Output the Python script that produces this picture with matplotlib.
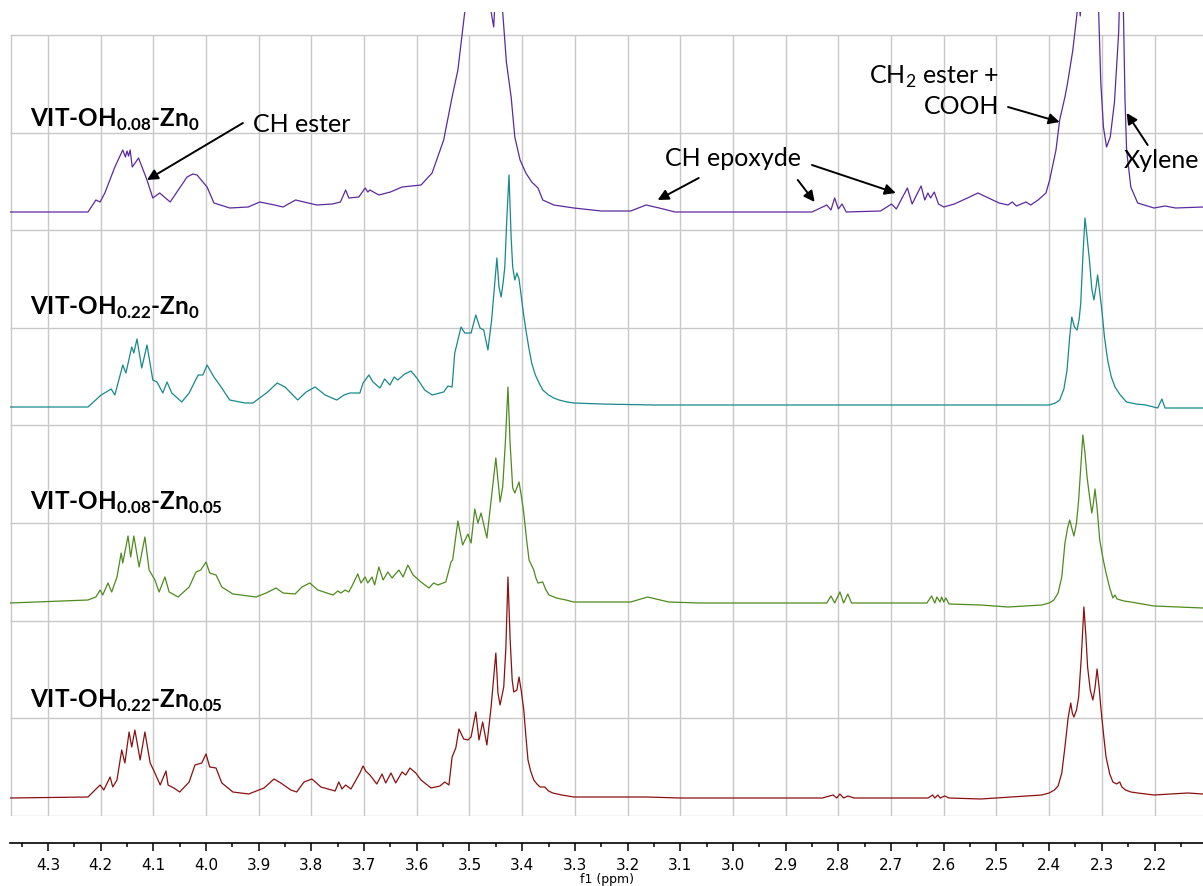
import numpy as np
import matplotlib
matplotlib.use("Agg")
import matplotlib.pyplot as plt
from matplotlib.ticker import MultipleLocator, FormatStrFormatter

# --- data: (ppm, intensity above baseline, a.u.) ---
purple = [(4.372, 0), (4.224, 0), (4.209, 12), (4.201, 10), (4.192, 19), (4.173, 45),
          (4.158, 62), (4.153, 55), (4.150, 61), (4.147, 56), (4.144, 62), (4.140, 45),
          (4.128, 54), (4.112, 32),
          (4.101, 14), (4.088, 19), (4.068, 10), (4.036, 35), (4.025, 38), (4.017, 37),
          (3.998, 25), (3.985, 9), (3.955, 4), (3.920, 5), (3.898, 10), (3.870, 7),
          (3.854, 5), (3.830, 12), (3.790, 7), (3.760, 8), (3.745, 10), (3.735, 22),
          (3.729, 14), (3.710, 15), (3.698, 24), (3.693, 20), (3.689, 22), (3.672, 17),
          (3.650, 20), (3.628, 25), (3.592, 27), (3.571, 39), (3.549, 72), (3.533, 115),
          (3.522, 142), (3.509, 200), (3.500, 280), (3.480, 300), (3.465, 260), (3.459, 200),
          (3.454, 185), (3.450, 230), (3.444, 240), (3.437, 200), (3.430, 150), (3.421, 115),
          (3.414, 75), (3.404, 52), (3.393, 39), (3.382, 30), (3.370, 24), (3.361, 12),
          (3.340, 7), (3.302, 4), (3.250, 1), (3.194, 1), (3.165, 7), (3.140, 4),
          (3.110, 0), (2.850, 0), (2.822, 7), (2.814, 2), (2.807, 14), (2.800, 3),
          (2.793, 8), (2.785, 0), (2.720, 1), (2.699, 8), (2.690, 3), (2.669, 24),
          (2.660, 8), (2.643, 26), (2.636, 12), (2.630, 19), (2.625, 14), (2.618, 20),
          (2.610, 8), (2.600, 5), (2.580, 8), (2.555, 14), (2.535, 19), (2.515, 14),
          (2.495, 9), (2.478, 7), (2.470, 10), (2.462, 6), (2.444, 10), (2.435, 7),
          (2.421, 12), (2.406, 19), (2.399, 32), (2.387, 62), (2.380, 92), (2.370, 115),
          (2.365, 129), (2.355, 162), (2.347, 199), (2.344, 215), (2.341, 196), (2.338, 215),
          (2.330, 300), (2.310, 300), (2.306, 200), (2.302, 130), (2.297, 85), (2.291, 65),
          (2.284, 75), (2.276, 110), (2.268, 180), (2.264, 260), (2.262, 300), (2.259, 200),
          (2.256, 112), (2.253, 62), (2.245, 25), (2.232, 9), (2.201, 4), (2.180, 6),
          (2.160, 4), (2.108, 5)]

teal = [(4.372, 0), (4.224, 0), (4.199, 12), (4.180, 18), (4.173, 12), (4.158, 42),
        (4.152, 34), (4.141, 60), (4.137, 54), (4.131, 68), (4.122, 39), (4.112, 62),
        (4.101, 27), (4.093, 25), (4.082, 14), (4.074, 25), (4.065, 14), (4.046, 5),
        (4.032, 14), (4.015, 32), (4.006, 32), (3.998, 42), (3.985, 30), (3.974, 22),
        (3.955, 7), (3.926, 4), (3.911, 4), (3.883, 15), (3.865, 24), (3.850, 20),
        (3.826, 7), (3.810, 15), (3.793, 20), (3.774, 12), (3.752, 7), (3.738, 12),
        (3.727, 14), (3.708, 14), (3.702, 24), (3.691, 32), (3.683, 25), (3.670, 19),
        (3.661, 28), (3.651, 22), (3.643, 30), (3.636, 27), (3.623, 33), (3.611, 36),
        (3.600, 29), (3.585, 17), (3.571, 12), (3.549, 15), (3.541, 21), (3.533, 20),
        (3.528, 54), (3.516, 80), (3.509, 74), (3.497, 74), (3.488, 92), (3.480, 79),
        (3.473, 77), (3.465, 57), (3.458, 87), (3.448, 149), (3.444, 120), (3.440, 110),
        (3.436, 125), (3.433, 140), (3.429, 190), (3.425, 232), (3.421, 170), (3.418, 140),
        (3.414, 127), (3.410, 134), (3.406, 128), (3.404, 120), (3.398, 95), (3.393, 77),
        (3.387, 58), (3.382, 44), (3.375, 32), (3.368, 24), (3.361, 17), (3.350, 12),
        (3.340, 9), (3.330, 7), (3.315, 5), (3.302, 4), (3.250, 3), (3.150, 2),
        (2.414, 2), (2.400, 2), (2.388, 4), (2.380, 7), (2.372, 18), (2.366, 37),
        (2.361, 70), (2.357, 90), (2.352, 80), (2.347, 77), (2.343, 88), (2.340, 104),
        (2.336, 150), (2.332, 189), (2.328, 170), (2.323, 144), (2.319, 118), (2.315, 107),
        (2.311, 120), (2.308, 132), (2.304, 115), (2.300, 97), (2.295, 70), (2.289, 47),
        (2.282, 30), (2.275, 20), (2.265, 12), (2.253, 5), (2.235, 3), (2.217, 2),
        (2.194, -1), (2.186, 8), (2.180, -1), (2.108, -1)]

green = [(4.372, 0), (4.224, 3), (4.209, 6), (4.201, 13), (4.196, 8), (4.186, 20),
         (4.179, 11), (4.169, 26), (4.161, 50), (4.158, 40), (4.148, 67), (4.143, 46),
         (4.137, 67), (4.127, 36), (4.116, 66), (4.108, 33), (4.097, 23), (4.089, 11),
         (4.078, 26), (4.070, 11), (4.053, 6), (4.032, 16), (4.019, 31), (4.010, 33),
         (4.000, 41), (3.993, 30), (3.981, 28), (3.970, 16), (3.949, 9), (3.905, 6),
         (3.886, 10), (3.867, 15), (3.854, 10), (3.831, 9), (3.818, 16), (3.803, 20),
         (3.788, 13), (3.759, 8), (3.750, 12), (3.744, 10), (3.736, 13), (3.729, 11),
         (3.723, 17), (3.712, 29), (3.706, 20), (3.698, 26), (3.693, 20), (3.685, 26),
         (3.680, 18), (3.672, 36), (3.664, 23), (3.655, 31), (3.647, 25), (3.634, 33),
         (3.626, 26), (3.617, 38), (3.607, 28), (3.592, 21), (3.577, 15), (3.568, 20),
         (3.560, 18), (3.545, 21), (3.535, 41), (3.532, 43), (3.522, 82), (3.513, 58),
         (3.503, 69), (3.497, 60), (3.490, 94), (3.484, 80), (3.478, 90), (3.467, 65),
         (3.459, 103), (3.450, 145), (3.442, 101), (3.437, 116), (3.432, 160), (3.427, 216),
         (3.423, 160), (3.418, 115), (3.414, 110), (3.406, 121), (3.401, 105), (3.397, 90),
         (3.392, 65), (3.387, 43), (3.378, 33), (3.374, 25), (3.370, 20), (3.361, 21),
         (3.355, 13), (3.349, 8), (3.335, 5), (3.317, 3), (3.302, 1), (3.194, 1),
         (3.162, 6), (3.122, 1), (3.063, 0), (2.822, 0), (2.814, 7), (2.807, 0),
         (2.797, 11), (2.790, 0), (2.782, 9), (2.775, 0), (2.632, 0), (2.623, 7),
         (2.617, 0), (2.613, 6), (2.607, 1), (2.604, 6), (2.600, 1), (2.596, 5),
         (2.590, -1), (2.530, -2), (2.478, -4), (2.414, -2), (2.400, 0), (2.391, 3),
         (2.383, 10), (2.376, 26), (2.370, 60), (2.365, 75), (2.361, 83), (2.357, 75),
         (2.353, 67), (2.348, 80), (2.344, 103), (2.340, 135), (2.336, 168), (2.332, 150),
         (2.328, 126), (2.323, 105), (2.319, 90), (2.316, 100), (2.313, 114), (2.309, 95),
         (2.304, 63), (2.298, 45), (2.292, 30), (2.285, 15), (2.279, 5), (2.275, 8),
         (2.271, 4), (2.258, 2), (2.245, 1), (2.201, -3), (2.108, -5)]

red = [(4.372, 0), (4.224, 1), (4.201, 13), (4.194, 8), (4.182, 21), (4.177, 11),
       (4.169, 18), (4.160, 48), (4.154, 35), (4.146, 66), (4.141, 51), (4.135, 68),
       (4.125, 38), (4.116, 66), (4.106, 35), (4.097, 25), (4.087, 13), (4.076, 27),
       (4.072, 13), (4.061, 10), (4.050, 6), (4.032, 16), (4.021, 33), (4.008, 35),
       (4.000, 44), (3.993, 31), (3.981, 30), (3.970, 15), (3.949, 6), (3.919, 4),
       (3.890, 10), (3.871, 19), (3.858, 15), (3.839, 8), (3.828, 6), (3.814, 16),
       (3.799, 19), (3.782, 11), (3.755, 7), (3.748, 16), (3.742, 9), (3.735, 13),
       (3.725, 9), (3.708, 25), (3.702, 32), (3.697, 27), (3.689, 23), (3.676, 14),
       (3.666, 24), (3.659, 15), (3.649, 25), (3.640, 15), (3.628, 26), (3.621, 23),
       (3.613, 30), (3.602, 25), (3.592, 18), (3.573, 10), (3.556, 12), (3.547, 16),
       (3.539, 13), (3.533, 41), (3.526, 50), (3.520, 69), (3.511, 59), (3.503, 58),
       (3.497, 61), (3.488, 86), (3.482, 58), (3.475, 76), (3.467, 53), (3.459, 91),
       (3.450, 145), (3.446, 105), (3.442, 93), (3.435, 111), (3.431, 150), (3.427, 221),
       (3.423, 160), (3.419, 118), (3.416, 106), (3.410, 108), (3.406, 121), (3.402, 108),
       (3.397, 88), (3.393, 62), (3.389, 38), (3.384, 27), (3.378, 18), (3.372, 14),
       (3.366, 11), (3.357, 11), (3.350, 7), (3.342, 5), (3.325, 3), (3.302, 1),
       (3.165, 1), (3.100, 0), (2.830, 0), (2.810, 3), (2.803, 0), (2.797, 4),
       (2.790, 0), (2.782, 2), (2.770, 0), (2.630, 0), (2.621, 3), (2.617, 0),
       (2.611, 3), (2.607, 0), (2.598, 2), (2.590, 0), (2.530, -1), (2.414, 3),
       (2.400, 5), (2.390, 8), (2.383, 12), (2.376, 25), (2.370, 51), (2.364, 80),
       (2.359, 95), (2.356, 85), (2.353, 81), (2.348, 88), (2.344, 101), (2.339, 140),
       (2.334, 191), (2.330, 160), (2.327, 131), (2.322, 108), (2.317, 98), (2.313, 110),
       (2.309, 129), (2.305, 110), (2.302, 91), (2.297, 65), (2.292, 41), (2.285, 24),
       (2.279, 16), (2.272, 14), (2.266, 16), (2.262, 11), (2.255, 8), (2.245, 6),
       (2.232, 5), (2.201, 3), (2.137, 5), (2.108, 4)]

sample_labels = [r"VIT-OH$_{\mathbf{0.08}}$-Zn$_{\mathbf{0}}$",
                 r"VIT-OH$_{\mathbf{0.22}}$-Zn$_{\mathbf{0}}$",
                 r"VIT-OH$_{\mathbf{0.08}}$-Zn$_{\mathbf{0.05}}$",
                 r"VIT-OH$_{\mathbf{0.22}}$-Zn$_{\mathbf{0.05}}$"]
colors = ["#5b2a9e", "#17898b", "#4f8a1f", "#8b1010"]
spectra = [purple, teal, green, red]

# --- fonts ---
plt.rcParams['font.family'] = ['Lato', 'DejaVu Sans']
plt.rcParams['mathtext.fontset'] = 'custom'
plt.rcParams['mathtext.rm'] = 'Lato'
plt.rcParams['mathtext.bf'] = 'Lato:bold'

W, H = 1203, 886
fig = plt.figure(figsize=(W / 100, H / 100), dpi=100)
ax = fig.add_axes([10 / W, 70 / H, 1193 / W, 804 / H])
ax.set_xlim(4.372, 2.108)
ax.set_ylim(0, 804)
ax.set_axis_off()

# grid box (the stack area), drawn by hand so the top spectrum may poke out above it
box_top = 781
grid_c = "#c8c8c8"
ax.hlines(np.linspace(0, box_top, 9), 4.372, 2.108, color=grid_c, lw=1.0, zorder=0)
ax.vlines(np.round(np.arange(2.2, 4.35, 0.1), 1), 0, box_top, color=grid_c, lw=1.0, zorder=0)
ax.vlines([4.371], 0, box_top, color=grid_c, lw=1.0, zorder=0)

offsets = [604, 409, 213, 18]
label_y = [689, 501, 306, 108]
for spec, off, c, lab, ly in zip(spectra, offsets, colors, sample_labels, label_y):
    ppm, inten = np.array(spec).T
    ax.plot(ppm, inten + off, color=c, lw=0.9, zorder=3)
    ax.text(4.334, ly, lab, fontsize=17.5, fontweight='bold', ha='left', va='baseline', zorder=5)

arrow_kw = dict(arrowstyle='-|>', color='black', lw=1.4, mutation_scale=16,
                shrinkA=0, shrinkB=0)
fs = 18
ax.text(3.911, 691, "CH ester", fontsize=fs, ha='left', va='center')
ax.annotate("", xy=(4.112, 636), xytext=(3.930, 693), arrowprops=arrow_kw)

ax.text(3.000, 657, "CH epoxyde", fontsize=fs, ha='center', va='center')
ax.annotate("", xy=(3.143, 616), xytext=(3.065, 638), arrowprops=arrow_kw)
ax.annotate("", xy=(2.845, 614), xytext=(2.877, 636), arrowprops=arrow_kw)
ax.annotate("", xy=(2.691, 623), xytext=(2.850, 651), arrowprops=arrow_kw)

ax.text(2.494, 725, "CH$_2$ ester +\nCOOH", fontsize=fs, ha='right', va='center',
        multialignment='right', linespacing=1.25)
ax.annotate("", xy=(2.380, 694), xytext=(2.478, 709), arrowprops=arrow_kw)

ax.text(2.258, 655, "Xylene", fontsize=fs, ha='left', va='center')
ax.annotate("", xy=(2.253, 703), xytext=(2.213, 671), arrowprops=arrow_kw)

# --- ppm scale below the stack ---
ax2 = fig.add_axes([10 / W, 43 / H, 1193 / W, 0.5 / H])
ax2.set_xlim(4.372, 2.108)
ax2.set_yticks([])
for s in ['top', 'left', 'right']:
    ax2.spines[s].set_visible(False)
ax2.spines['bottom'].set_linewidth(1.2)
ax2.xaxis.set_major_locator(MultipleLocator(0.1))
ax2.xaxis.set_minor_locator(MultipleLocator(0.05))
ax2.xaxis.set_major_formatter(FormatStrFormatter('%.1f'))
ax2.tick_params(axis='x', which='major', length=6, width=1.1, pad=5)
ax2.tick_params(axis='x', which='minor', length=3, width=1.1)
for t in ax2.get_xticklabels():
    t.set_fontfamily('DejaVu Sans')
    t.set_fontsize(11)
ax2.set_xlabel("f1 (ppm)", fontsize=9, family='DejaVu Sans', labelpad=0)
ax2.patch.set_visible(False)

fig.savefig("out.png", dpi=100)
